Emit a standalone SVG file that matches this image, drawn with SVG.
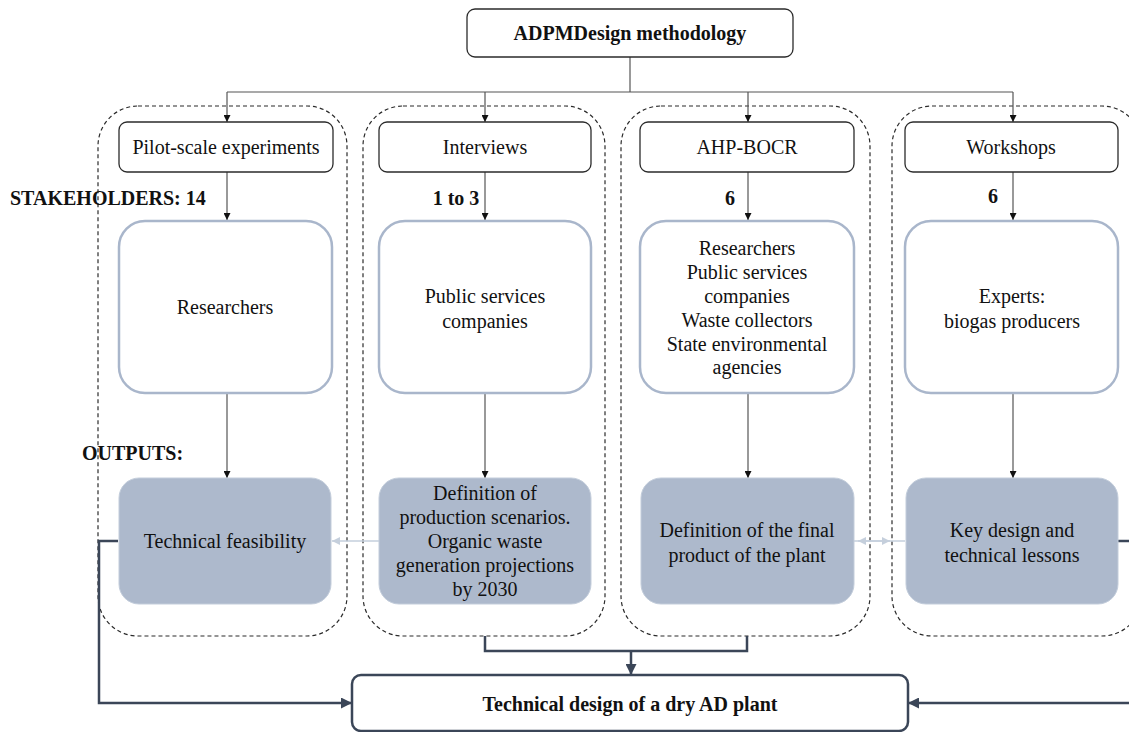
<svg xmlns="http://www.w3.org/2000/svg" width="1129" height="732" viewBox="0 0 1129 732">
  <style>
    text { font-family: "Liberation Serif", "Times New Roman", serif; font-size: 20px; fill: #111; text-anchor: middle; dominant-baseline: central; }
    .b { font-weight: bold; }
    .l { text-anchor: start; }
    .proc { fill: #fff; stroke: #2b2b2b; stroke-width: 1.3; }
    .stake { fill: #fff; stroke: #a9b6cb; stroke-width: 2.5; }
    .out { fill: #adb9cc; stroke: #c3cddb; stroke-width: 1; }
    .group { fill: none; stroke: #2b2b2b; stroke-width: 1.2; stroke-dasharray: 4 3; }
    .thin { fill: none; stroke: #555; stroke-width: 1.2; }
    .faint { fill: none; stroke: #c5cfdc; stroke-width: 1.5; }
    .bold { fill: none; stroke: #3b4658; stroke-width: 2.5; }
  </style>
  <defs>
    <marker id="arr" viewBox="0 0 10 10" refX="10" refY="5" markerWidth="7" markerHeight="7" orient="auto" markerUnits="userSpaceOnUse">
      <path d="M0 0 L10 5 L0 10 z" fill="#111"/>
    </marker>
    <marker id="arrFaint" viewBox="0 0 10 10" refX="10" refY="5" markerWidth="8" markerHeight="8" orient="auto" markerUnits="userSpaceOnUse">
      <path d="M0 0 L10 5 L0 10 z" fill="#c5cfdc"/>
    </marker>
    <marker id="arrBold" viewBox="0 0 10 10" refX="10" refY="5" markerWidth="11" markerHeight="11" orient="auto" markerUnits="userSpaceOnUse">
      <path d="M0 0 L10 5 L0 10 z" fill="#3b4658"/>
    </marker>
  </defs>

  <!-- dashed method lanes -->
  <g id="lanes">
    <rect class="group" x="98" y="106" width="249" height="530" rx="40" ry="40"/>
    <rect class="group" x="363" y="106" width="242" height="530" rx="40" ry="40"/>
    <rect class="group" x="621" y="106" width="249" height="530" rx="40" ry="40"/>
    <rect class="group" x="892" y="106" width="250" height="530" rx="40" ry="40"/>
  </g>

  <!-- connectors -->
  <g id="connectors">
    <path class="thin" d="M630 57 V92"/>
    <path class="thin" d="M227 92 H1013"/>
    <path class="thin" d="M227 92 V122" marker-end="url(#arr)"/>
    <path class="thin" d="M485 92 V122" marker-end="url(#arr)"/>
    <path class="thin" d="M748 92 V122" marker-end="url(#arr)"/>
    <path class="thin" d="M1013 92 V122" marker-end="url(#arr)"/>

    <path class="thin" d="M227 172 V220" marker-end="url(#arr)"/>
    <path class="thin" d="M485 172 V220" marker-end="url(#arr)"/>
    <path class="thin" d="M748 172 V220" marker-end="url(#arr)"/>
    <path class="thin" d="M1013 172 V220" marker-end="url(#arr)"/>

    <path class="thin" d="M227 393 V478" marker-end="url(#arr)"/>
    <path class="thin" d="M485 393 V478" marker-end="url(#arr)"/>
    <path class="thin" d="M748 393 V478" marker-end="url(#arr)"/>
    <path class="thin" d="M1013 393 V478" marker-end="url(#arr)"/>

    <path class="faint" d="M379 541 H332" marker-end="url(#arrFaint)"/>
    <path class="faint" d="M854 541 H905"/>
    <path class="faint" d="M874 541 H858" marker-end="url(#arrFaint)"/>
    <path class="faint" d="M874 541 H890" marker-end="url(#arrFaint)"/>

    <path class="bold" d="M118 541 H99 V703 H352" marker-end="url(#arrBold)"/>
    <path class="bold" d="M1118 541 H1135"/>
    <path class="bold" d="M1135 703 H908" marker-end="url(#arrBold)"/>
    <path class="bold" d="M485 636 V651 H747 V636"/>
    <path class="bold" d="M631 651 V675" marker-end="url(#arrBold)"/>
  </g>

  <g id="methodology">
    <rect class="proc" x="467" y="9" width="326" height="48" rx="8"/>
    <text class="b" x="630" y="33">ADPMDesign methodology</text>
  </g>

  <!-- method boxes -->
  <g id="pilot">
    <rect class="proc" x="119" y="122" width="214" height="50" rx="8"/>
    <text x="226" y="147">Pilot-scale experiments</text>
  </g>
  <g id="interviews">
    <rect class="proc" x="379" y="122" width="212" height="50" rx="8"/>
    <text x="485" y="147">Interviews</text>
  </g>
  <g id="ahp">
    <rect class="proc" x="640" y="122" width="214" height="50" rx="8"/>
    <text x="747" y="147">AHP-BOCR</text>
  </g>
  <g id="workshops">
    <rect class="proc" x="905" y="122" width="213" height="50" rx="8"/>
    <text x="1011" y="147">Workshops</text>
  </g>

  <!-- stakeholder counts -->
  <g id="labels">
    <text class="b l" x="10" y="198">STAKEHOLDERS: 14</text>
    <text class="b" x="456" y="198">1 to 3</text>
    <text class="b" x="730" y="198">6</text>
    <text class="b" x="993" y="196">6</text>
    <text class="b l" x="82" y="453">OUTPUTS:</text>
  </g>

  <!-- stakeholder boxes -->
  <g id="stake-pilot">
    <rect class="stake" x="119" y="221" width="213" height="172" rx="26"/>
    <text x="225" y="307">Researchers</text>
  </g>
  <g id="stake-interviews">
    <rect class="stake" x="379" y="221" width="212" height="172" rx="26"/>
    <text x="485" y="296">Public services</text>
    <text x="485" y="321">companies</text>
  </g>
  <g id="stake-ahp">
    <rect class="stake" x="640" y="221" width="214" height="172" rx="26"/>
    <text x="747" y="248">Researchers</text>
    <text x="747" y="272">Public services</text>
    <text x="747" y="296">companies</text>
    <text x="747" y="320">Waste collectors</text>
    <text x="747" y="344">State environmental</text>
    <text x="747" y="367">agencies</text>
  </g>
  <g id="stake-workshops">
    <rect class="stake" x="905" y="221" width="213" height="172" rx="26"/>
    <text x="1012" y="296">Experts:</text>
    <text x="1012" y="321">biogas producers</text>
  </g>

  <!-- outputs -->
  <g id="out-pilot">
    <rect class="out" x="119" y="478" width="212" height="126" rx="20"/>
    <text x="225" y="541">Technical feasibility</text>
  </g>
  <g id="out-interviews">
    <rect class="out" x="379" y="478" width="212" height="126" rx="20"/>
    <text x="485" y="493">Definition of</text>
    <text x="485" y="517">production scenarios.</text>
    <text x="485" y="541">Organic waste</text>
    <text x="485" y="565">generation projections</text>
    <text x="485" y="589">by 2030</text>
  </g>
  <g id="out-ahp">
    <rect class="out" x="641" y="478" width="213" height="126" rx="20"/>
    <text x="747" y="530">Definition of the final</text>
    <text x="747" y="555">product of the plant</text>
  </g>
  <g id="out-workshops">
    <rect class="out" x="906" y="478" width="212" height="126" rx="20"/>
    <text x="1012" y="530">Key design and</text>
    <text x="1012" y="555">technical lessons</text>
  </g>

  <g id="final">
    <rect x="352" y="675" width="556" height="56" rx="9" fill="#fff" stroke="#3b4658" stroke-width="2.5"/>
    <text class="b" x="630" y="704">Technical design of a dry AD plant</text>
  </g>
</svg>
